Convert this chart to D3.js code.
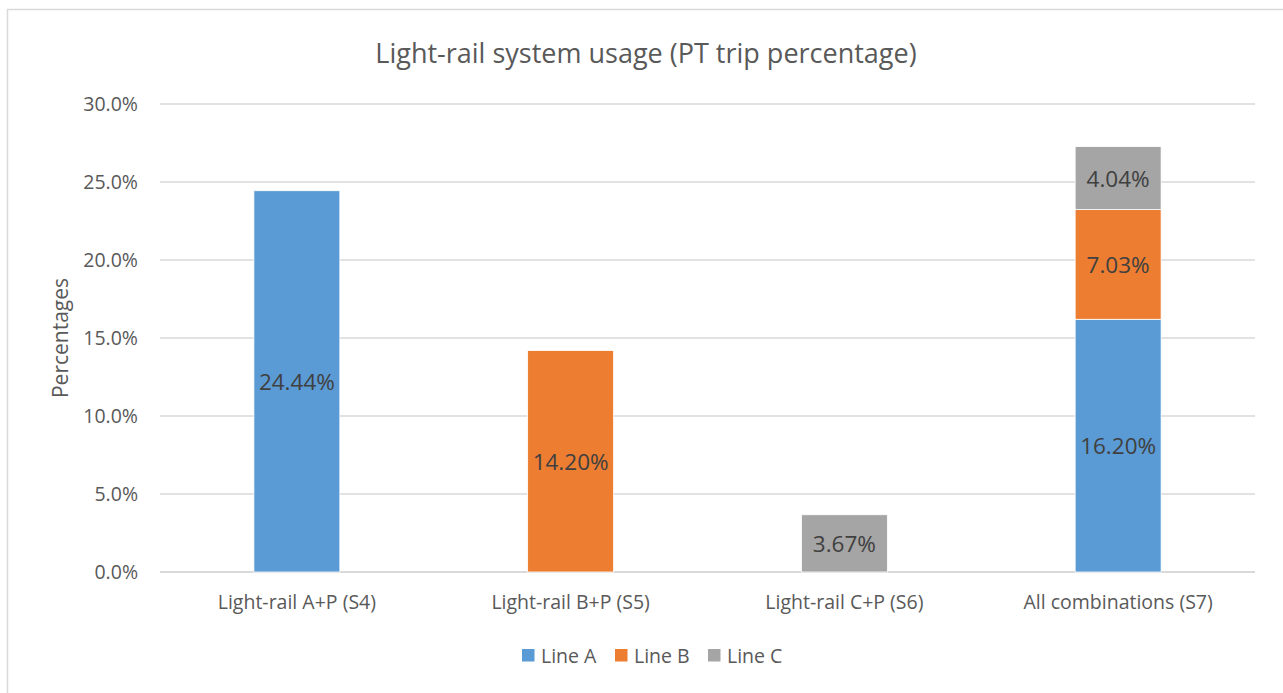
<!DOCTYPE html>
<html>
<head>
<meta charset="utf-8">
<script src="https://cdn.jsdelivr.net/npm/d3@7"></script>
<style>
  html, body { margin: 0; padding: 0; background: #fff; }
  svg { display: block; font-family: "Open Sans", "Noto Sans", sans-serif; }
</style>
</head>
<body>
<svg id="chart" width="1283" height="693"></svg>
<script>
// Scenario categories
const categories = ["Light-rail A+P (S4)", "Light-rail B+P (S5)", "Light-rail C+P (S6)", "All combinations (S7)"];
// Series values (percent of PT trips); null where a line is not part of the scenario
const lineA = [24.44, null, null, 16.20];
const lineB = [null, 14.20, null, 7.03];
const lineC = [null, null, 3.67, 4.04];
const seriesNames = ["Line A", "Line B", "Line C"];
const seriesColors = ["#5B9BD5", "#ED7D31", "#A5A5A5"];
const yTicks = [0, 5, 10, 15, 20, 25, 30];

const svg = d3.select("#chart");
const W = 1283, H = 693;
const plot = { left: 160, right: 1255, top: 104, bottom: 572 };

// Outer chart frame (right and bottom edges run past the page)
svg.append("rect")
  .attr("x", 7.5).attr("y", 9.5)
  .attr("width", W + 20).attr("height", H + 20)
  .attr("fill", "#fff").attr("stroke", "#d9d9d9").attr("stroke-width", 1.5);

const x = d3.scaleBand().domain(categories).range([plot.left, plot.right]).paddingInner(0.686).paddingOuter(0.343);
const y = d3.scaleLinear().domain([0, 30]).range([plot.bottom, plot.top]);

// Gridlines
svg.append("g").selectAll("line").data(yTicks).join("line")
  .attr("x1", plot.left).attr("x2", plot.right)
  .attr("y1", d => y(d)).attr("y2", d => y(d))
  .attr("stroke", "#d9d9d9").attr("stroke-width", d => d === 0 ? 2 : 1.3);

// Y axis labels
const yAxis = d3.axisLeft(y).tickValues(yTicks).tickFormat(d => d.toFixed(1) + "%").tickSize(0).tickPadding(0);
const gy = svg.append("g").attr("transform", `translate(${plot.left - 22},0)`).call(yAxis);
gy.select(".domain").remove();
gy.selectAll("text").attr("fill", "#595959").style("font-size", "19.5px").style("font-family", "'Open Sans', sans-serif");

// X axis labels
const xAxis = d3.axisBottom(x).tickSize(0).tickPadding(0);
const gx = svg.append("g").attr("transform", `translate(0,${plot.bottom + 23})`).call(xAxis);
gx.select(".domain").remove();
gx.selectAll("text").attr("fill", "#595959").style("font-size", "19.5px").style("font-family", "'Open Sans', sans-serif");

// Stack the series
const rows = categories.map((c, i) => ({ cat: c, "Line A": lineA[i] || 0, "Line B": lineB[i] || 0, "Line C": lineC[i] || 0 }));
const stacked = d3.stack().keys(seriesNames)(rows);

const layers = svg.append("g").selectAll("g").data(stacked).join("g")
  .attr("fill", (d, i) => seriesColors[i]);

layers.selectAll("rect").data(d => d.filter(s => s[1] - s[0] > 0)).join("rect")
  .attr("x", d => x(d.data.cat))
  .attr("width", x.bandwidth())
  .attr("y", d => y(d[1]))
  .attr("height", d => y(d[0]) - y(d[1]))
  .attr("stroke", "#fff").attr("stroke-width", 0.8);

// Value labels centred in each segment
layers.selectAll("text").data(d => d.filter(s => s[1] - s[0] > 0)).join("text")
  .attr("x", d => x(d.data.cat) + x.bandwidth() / 2)
  .attr("y", d => (y(d[0]) + y(d[1])) / 2)
  .attr("text-anchor", "middle").attr("dominant-baseline", "central")
  .attr("fill", "#404040").style("font-size", "22.5px")
  .text(d => (d[1] - d[0]).toFixed(2) + "%");

// Title
svg.append("text").attr("x", 646).attr("y", 52)
  .attr("text-anchor", "middle").attr("dominant-baseline", "central")
  .attr("fill", "#595959").style("font-size", "27px")
  .text("Light-rail system usage (PT trip percentage)");

// Y axis title
svg.append("text")
  .attr("transform", `translate(60,${(plot.top + plot.bottom) / 2}) rotate(-90)`)
  .attr("text-anchor", "middle").attr("dominant-baseline", "central")
  .attr("fill", "#595959").style("font-size", "21px")
  .text("Percentages");

// Legend
const legendItems = [
  { name: "Line A", x: 522 },
  { name: "Line B", x: 615 },
  { name: "Line C", x: 708 }
];
const lg = svg.append("g").selectAll("g").data(legendItems).join("g")
  .attr("transform", d => `translate(${d.x},655.5)`);
lg.append("rect").attr("x", 0).attr("y", -6.5).attr("width", 12.5).attr("height", 12.5)
  .attr("fill", (d, i) => seriesColors[i]);
lg.append("text").attr("x", 19).attr("y", 0).attr("dominant-baseline", "central")
  .attr("fill", "#595959").style("font-size", "19.5px").text(d => d.name);
</script>
</body>
</html>
